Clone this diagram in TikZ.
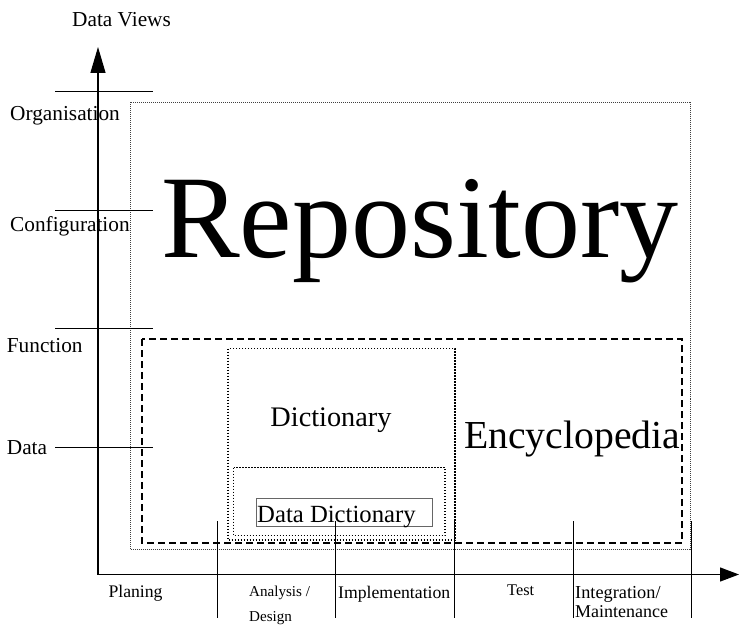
\documentclass[tikz,border=0pt]{standalone}
\usepackage{fontspec}
\setmainfont{Liberation Serif}
\usetikzlibrary{arrows.meta}
\begin{document}
\begin{tikzpicture}[x=1pt,y=-1pt,
  lbl/.style={anchor=base west,inner sep=0pt,font=\fontsize{21.3}{24}\selectfont},
  phase/.style={anchor=base west,inner sep=0pt,font=\fontsize{17.7}{20}\selectfont},
  axisline/.style={line width=1.3pt},
  tickline/.style={line width=1pt},
  outerbox/.style={draw=black!75,line width=0.7pt,dash pattern=on 1pt off 1pt},
  encbox/.style={draw=black,line width=1.3pt,dash pattern=on 7pt off 4pt},
  dictbox/.style={draw=black,line width=1.6pt,dash pattern=on 1.5pt off 1.5pt},
  ddbox/.style={draw=black!60,line width=0.8pt}]
\useasboundingbox (0,0) rectangle (739,626);
% coordinates
\coordinate (origin) at (98,574.5);
\coordinate (ytip) at (98,47);
\coordinate (xtip) at (739,574.5);
% boxes
\draw[outerbox] (130,102) rectangle (690.5,549.5);
\draw[encbox] (142,339) rectangle (682,543);
\draw[dictbox] (228,348.5) rectangle (455,540);
\draw[dictbox] (233.5,467.5) rectangle (445,535.5);
\draw[ddbox] (256.5,498.5) rectangle (432.5,526);
% axes
\draw[axisline,-{Triangle[length=26pt,width=15pt]}] (origin) -- (ytip);
\draw[axisline,-{Triangle[length=19pt,width=14pt]}] (origin) -- (xtip);
% y ticks
\foreach \yy in {91,210,328,447.5} \draw[tickline] (55,\yy) -- (153,\yy);
% x ticks
\foreach \xx in {217,335,454,573,691} \draw[tickline] (\xx,521) -- (\xx,618);
% labels
\node[lbl] (dv) at (72,26.7) {Data Views};
\node[lbl] (org) at (10,120.5) {Organisation};
\node[lbl] (conf) at (10,231.5) {Configuration};
\node[lbl] (func) at (6.7,352.3) {Function};
\node[lbl] (data) at (6.7,454.3) {Data};
\node[phase] (plan) at (108.3,597.5) {Planing};
\node[phase,font=\fontsize{15.1}{18}\selectfont] (ana) at (249,596.5) {Analysis /};
\node[phase,font=\fontsize{15.1}{18}\selectfont] (des) at (249,621) {Design};
\node[phase] (impl) at (338,598) {Implementation};
\node[phase,font=\fontsize{16.3}{19}\selectfont] (test) at (507,595) {Test};
\node[phase,font=\fontsize{18.3}{20}\selectfont] (integ) at (575,598) {Integration/};
\node[phase,font=\fontsize{18}{20}\selectfont] (maint) at (575,617.3) {Maintenance};
% main texts
\node[anchor=base,inner sep=0pt,font=\fontsize{118}{120}\selectfont] (repo) at (420,257) {Repository};
\node[anchor=base,inner sep=0pt,font=\fontsize{28.3}{30}\selectfont] (dict) at (331,426.7) {Dictionary};
\node[anchor=base west,inner sep=0pt,font=\fontsize{39.7}{42}\selectfont] (ency) at (464,448) {Encyclopedia};
\node[anchor=base west,inner sep=0pt,font=\fontsize{24.7}{27}\selectfont] (ddict) at (257,522.7) {Data Dictionary};
\end{tikzpicture}
\end{document}
